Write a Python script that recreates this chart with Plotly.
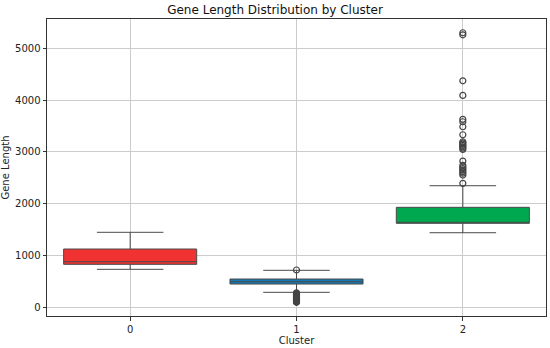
import plotly.graph_objects as go

clusters = [0, 1, 2]
q1 = [835, 456, 1625]
median = [886, 500, 1640]
q3 = [1130, 552, 1933]
lower_fence = [739, 296, 1444]
upper_fence = [1452, 720, 2349]
box_colors = ["#F03232", "#1679B3", "#00A84F"]

outliers_c1 = [726, 285, 272, 260, 248, 236, 224, 212, 200, 188, 176, 165, 154, 143, 132, 122, 112, 104]
outliers_c2 = [5295, 5256, 4370, 4089, 3627, 3581, 3485, 3331, 3196, 3175, 3150, 3125, 3100, 3075, 3050,
               2824, 2741, 2710, 2680, 2650, 2620, 2590, 2555, 2395]

fig = go.Figure()
for i, c in enumerate(clusters):
    fig.add_trace(go.Box(
        x=[c], q1=[q1[i]], median=[median[i]], q3=[q3[i]],
        lowerfence=[lower_fence[i]], upperfence=[upper_fence[i]],
        fillcolor=box_colors[i], line=dict(color="#4a4a4a", width=1),
        width=0.8, whiskerwidth=0.5, boxpoints=False, showlegend=False,
    ))

fig.add_trace(go.Scatter(
    x=[1] * len(outliers_c1), y=outliers_c1, mode="markers",
    marker=dict(symbol="circle-open", size=6, color="#444444", line=dict(width=1.2)),
    showlegend=False,
))
fig.add_trace(go.Scatter(
    x=[2] * len(outliers_c2), y=outliers_c2, mode="markers",
    marker=dict(symbol="circle-open", size=6, color="#444444", line=dict(width=1.2)),
    showlegend=False,
))

fig.update_layout(
    width=550, height=348,
    margin=dict(l=47, r=4, t=19, b=32),
    paper_bgcolor="white", plot_bgcolor="white",
    font=dict(family="DejaVu Sans", color="#222222", size=10),
    title=dict(text="Gene Length Distribution by Cluster", x=0.5, xanchor="center",
               y=1 - 10 / 348, yanchor="middle", font=dict(size=12, color="#111111")),
    boxmode="overlay",
)
fig.update_xaxes(
    range=[-0.5, 2.5], tickvals=clusters, ticktext=[str(c) for c in clusters],
    showgrid=True, gridcolor="#cccccc", gridwidth=1,
    showline=True, mirror=True, linecolor="#333333", linewidth=1,
    ticks="outside", ticklen=3.5, tickcolor="#333333",
    title=dict(text="Cluster", standoff=3, font=dict(size=10)), zeroline=False,
)
fig.update_yaxes(
    range=[-160, 5560], tickvals=[0, 1000, 2000, 3000, 4000, 5000],
    showgrid=True, gridcolor="#cccccc", gridwidth=1,
    showline=True, mirror=True, linecolor="#333333", linewidth=1,
    ticks="outside", ticklen=3.5, tickcolor="#333333",
    title=dict(text="Gene Length", standoff=4, font=dict(size=10)), zeroline=False,
)

fig.write_html("out.html", config={"displayModeBar": False},
               post_script="document.body.style.margin='0px';document.body.style.overflow='hidden';")
